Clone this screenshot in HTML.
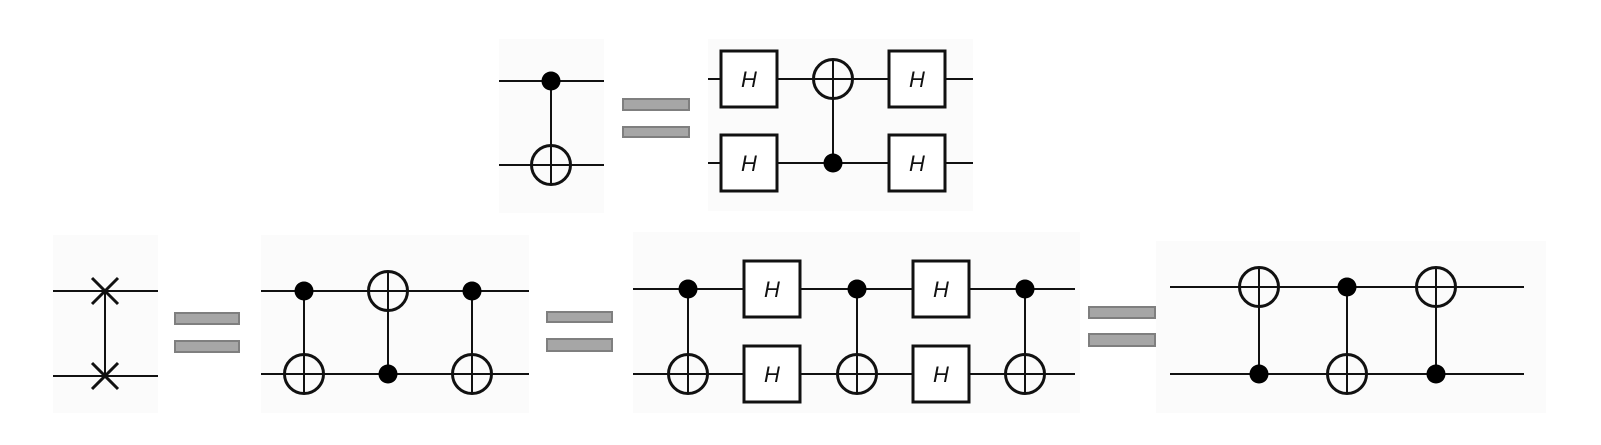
<!DOCTYPE html>
<html><head><meta charset="utf-8"><style>
html,body{margin:0;padding:0;background:#fff;}
svg{display:block;}
.w{stroke:#111;stroke-width:2;fill:none}
.v{stroke:#111;stroke-width:2}
.t{stroke:#111;stroke-width:3;fill:none}
.d{fill:#000}
.h{fill:#fff;stroke:#111;stroke-width:3}
.eq{fill:#a6a6a6;stroke:#7f7f7f;stroke-width:2}
.lbl{font-family:"Liberation Sans",sans-serif;font-style:italic;font-size:22px;fill:#111}
.p{fill:#fbfbfb}
</style></head><body>
<svg id="s" width="1601" height="445" viewBox="0 0 1601 445" xmlns="http://www.w3.org/2000/svg">
<g id="root"></g>
</svg>
<script>
const NS='http://www.w3.org/2000/svg';
const root=document.getElementById('root');
function mk(tag,attrs,parent){const e=document.createElementNS(NS,tag);for(const k in attrs)e.setAttribute(k,attrs[k]);(parent||root).appendChild(e);return e;}
// panels: [x,y,w,h]
const panels=[[499,39,105,174],[708,39,265,172],[53,235,105,178],[261,235,268,178],[633,232,447,181],[1156,241,390,172]];
const wires=[[499,604,81,165],[708,973,79,163],[53,158,291,376],[261,529,291,374],[633,1075,289,374],[1170,1524,287,374]];
const equals=[[623,689,99,110,127,137],[175,239,313,324,341,352],[547,612,312,322,339,351],[1089,1155,307,318,334,346]];
// gates: [panelIndex, type, x] ; types: cx-tb (control top target bottom), cx-bt, swap, h
const gates=[[0,'cx-tb',551],[1,'h',749],[1,'cx-bt',833],[1,'h',917],[2,'swap',105],
[3,'cx-tb',304],[3,'cx-bt',388],[3,'cx-tb',472],
[4,'cx-tb',688],[4,'h',772],[4,'cx-tb',857],[4,'h',941],[4,'cx-tb',1025],
[5,'cx-bt',1259],[5,'cx-tb',1347],[5,'cx-bt',1436]];
panels.forEach((p,i)=>{
  const r=mk('rect',{x:p[0],y:p[1],width:p[2],height:p[3],class:'p'});
  
  
});
wires.forEach((w,i)=>{
  const a=mk('line',{x1:w[0],x2:w[1],y1:w[2],y2:w[2],class:'w'});
  
  
  const b=mk('line',{x1:w[0],x2:w[1],y1:w[3],y2:w[3],class:'w'});
  
  
});
equals.forEach(e=>{
  const g=mk('g',{});
  
  
  mk('rect',{x:e[0],y:e[2],width:e[1]-e[0],height:e[3]-e[2],class:'eq'},g);
  mk('rect',{x:e[0],y:e[4],width:e[1]-e[0],height:e[5]-e[4],class:'eq'},g);
});
function target(g,x,y){mk('circle',{cx:x,cy:y,r:19.5,class:'t'},g);mk('line',{x1:x-19.5,x2:x+19.5,y1:y,y2:y,class:'v'},g);mk('line',{x1:x,x2:x,y1:y-19.5,y2:y+19.5,class:'v'},g);}
function dot(g,x,y){mk('circle',{cx:x,cy:y,r:9.5,class:'d'},g);}
gates.forEach(gt=>{
  const w=wires[gt[0]],x=gt[2],yt=w[2],yb=w[3];
  const g=mk('g',{});
  if(gt[1]==='h'){
    
    
    [yt,yb].forEach(y=>{
      mk('rect',{x:x-28,y:y-28,width:56,height:56,class:'h'},g);
      const t=mk('text',{x:x,y:y+8,'text-anchor':'middle',class:'lbl'},g);t.textContent='H';
    });
  } else if(gt[1]==='swap'){
    
    
    mk('line',{x1:x,x2:x,y1:yt,y2:yb,class:'v'},g);
    [yt,yb].forEach(y=>{mk('line',{x1:x-13,x2:x+13,y1:y-13,y2:y+13,class:'t'},g);mk('line',{x1:x-13,x2:x+13,y1:y+13,y2:y-13,class:'t'},g);});
  } else {
    
    
    mk('line',{x1:x,x2:x,y1:yt,y2:yb,class:'v'},g);
    if(gt[1]==='cx-tb'){dot(g,x,yt);target(g,x,yb);} else {target(g,x,yt);dot(g,x,yb);}
  }
});
</script>
</body></html>
